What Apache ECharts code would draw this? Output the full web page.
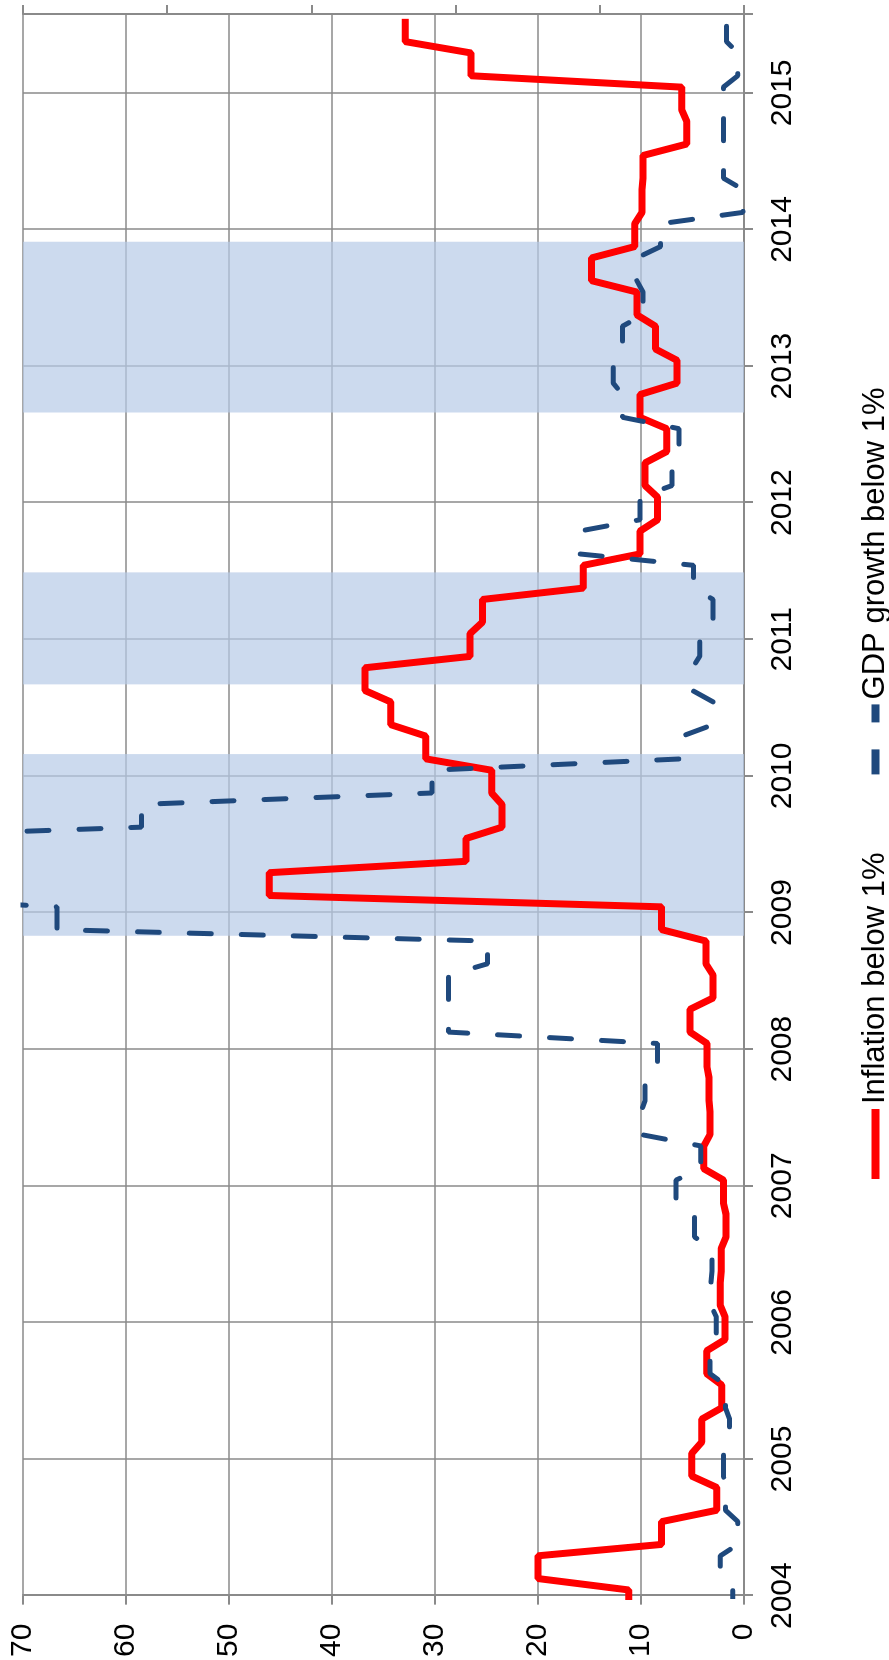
<!DOCTYPE html>
<html>
<head>
<meta charset="utf-8">
<script src="https://cdn.jsdelivr.net/npm/echarts@6/dist/echarts.min.js"></script>
<style>
html,body{margin:0;padding:0;background:#fff;width:889px;height:1660px;overflow:hidden}
#chart{position:absolute;left:0;top:0;width:1660px;height:889px;transform-origin:0 0;transform:translate(0,1660px) rotate(-90deg);background:#fff}
</style>
</head>
<body>
<div id="chart"></div>
<script>
// Survey rounds (first month of each 3-month round)
const roundStart = [
  '2003-11',
  '2004-02','2004-05','2004-08','2004-11',
  '2005-02','2005-05','2005-08','2005-11',
  '2006-02','2006-05','2006-08','2006-11',
  '2007-02','2007-05','2007-08','2007-11',
  '2008-02','2008-05','2008-08','2008-11',
  '2009-02','2009-05','2009-08','2009-11',
  '2010-02','2010-05','2010-08','2010-11',
  '2011-02','2011-05','2011-08','2011-11',
  '2012-02','2012-05','2012-08','2012-11',
  '2013-02','2013-05','2013-08','2013-11',
  '2014-02','2014-05','2014-08','2014-11',
  '2015-02','2015-05'
];
const inflationBelow1 = [11.2, 20.0, 8.0, 2.65, 5.07, 4.1, 2.16, 3.62, 1.84, 2.3, 2.2, 1.75, 2.0, 3.9, 3.3, 3.4, 3.6, 5.24, 3.0, 3.7, 8.0, 46.1, 27.0, 23.5, 24.5, 30.9, 34.3, 36.8, 26.6, 25.4, 15.6, 10.1, 8.4, 9.6, 7.5, 10.1, 6.5, 8.6, 10.4, 14.8, 10.6, 9.9, 9.8, 5.56, 6.04, 26.5, 32.9];
const gdpBelow1 = [1.1, 2.3, 0.6, 1.8, 2.0, 1.4, 1.8, 3.3, 2.7, 3.2, 3.1, 4.8, 6.6, 4.2, 10.0, 9.6, 8.4, 28.7, 28.7, 24.9, 66.7, 88, 90, 58.5, 30.3, 6.0, 3.0, 5.0, 4.3, 3.0, 4.9, 16.0, 10.1, 7.0, 6.3, 11.8, 12.7, 11.8, 9.8, 10.4, 8.1, 0.1, 2.0, 2.0, 2.0, 0.6, 1.7];
const seriesNames = ['Inflation below 1%', 'GDP growth below 1%'];
const bandStart = [2008.83, 2010.67, 2012.66];
const bandEnd = [2010.16, 2011.49, 2013.91];
const yearTicks = [2004, 2005, 2006, 2007, 2008, 2009, 2010, 2011, 2012, 2013, 2014, 2015];
const valueTicks = [0, 10, 20, 30, 40, 50, 60, 70];

// each round's value holds for its three months (points at mid-month)
function roundPoints(values) {
  const pts = [];
  roundStart.forEach((s, i) => {
    const parts = s.split('-').map(Number);
    for (let j = 0; j < 3; j++) {
      const mm = parts[1] + j;
      const yy = parts[0] + Math.floor((mm - 1) / 12);
      const mo = ((mm - 1) % 12) + 1;
      pts.push([yy + (mo - 0.5) / 12, values[i]]);
    }
  });
  return pts;
}

const FONT = "'Liberation Sans', Arial, sans-serif";
const TICKFONT = "'Liberation Sans Narrow', 'Liberation Sans', Arial, sans-serif";
const GRID = '#8a8a8a';
const RED = '#FF0000';
const BLUE = '#1F497D';
const chart = echarts.init(document.getElementById('chart'), null, {renderer: 'canvas'});
chart.setOption({
  animation: false,
  backgroundColor: '#fff',
  grid: {left: 60, right: 14, top: 23, bottom: 145, containLabel: false},
  legend: {
    data: [
      {name: seriesNames[0], icon: 'path://M0,0 L70,0 L70,8 L0,8 Z'},
      {name: seriesNames[1], icon: 'path://M0,0 L25,0 L25,8 L0,8 Z M52,0 L70,0 L70,8 L52,8 Z'}
    ],
    left: 476, top: 855,
    itemWidth: 70, itemHeight: 8, itemGap: 78,
    textStyle: {fontFamily: FONT, fontSize: 31, color: '#000'}
  },
  xAxis: {
    type: 'value', min: yearTicks[0], max: 2015.577, interval: 1,
    axisLine: {show: true, lineStyle: {color: GRID, width: 2}},
    axisTick: {show: true, inside: false, length: 9, lineStyle: {color: GRID, width: 2}},
    axisLabel: {fontFamily: TICKFONT, fontSize: 30, color: '#000', margin: 24,
      formatter: v => (yearTicks.indexOf(Math.round(v)) >= 0 && Math.abs(v - Math.round(v)) < 1e-6) ? String(Math.round(v)) : ''},
    splitLine: {show: true, lineStyle: {color: GRID, width: 1.5}}
  },
  yAxis: [{
    type: 'value', min: valueTicks[0], max: valueTicks[valueTicks.length - 1], interval: 10,
    axisLine: {show: true, lineStyle: {color: GRID, width: 2}},
    axisTick: {show: true, inside: false, length: 9, lineStyle: {color: GRID, width: 2}},
    axisLabel: {fontFamily: TICKFONT, fontSize: 30, color: '#000', margin: 28},
    splitLine: {show: true, lineStyle: {color: GRID, width: 1.5}}
  }, {
    type: 'value', position: 'right', min: 0, max: 1, interval: 0.2,
    axisLine: {show: true, lineStyle: {color: GRID, width: 2}},
    axisTick: {show: true, inside: false, length: 9, lineStyle: {color: GRID, width: 2}},
    axisLabel: {show: false},
    splitLine: {show: false}
  }],
  series: [{
    name: seriesNames[0], type: 'line', xAxisIndex: 0, yAxisIndex: 0,
    data: roundPoints(inflationBelow1), symbol: 'none', clip: true, z: 3,
    lineStyle: {color: RED, width: 7},
    itemStyle: {color: RED},
    markArea: {
      silent: true,
      itemStyle: {color: '#b6cae7', opacity: 0.7},
      data: bandStart.map((s, i) => [{xAxis: s}, {xAxis: bandEnd[i]}])
    }
  }, {
    name: seriesNames[1], type: 'line', xAxisIndex: 0, yAxisIndex: 0,
    data: roundPoints(gdpBelow1), symbol: 'none', clip: true, z: 4,
    lineStyle: {color: BLUE, width: 5, type: [22, 30], cap: 'round'},
    itemStyle: {color: BLUE}
  }]
});
</script>
</body>
</html>
